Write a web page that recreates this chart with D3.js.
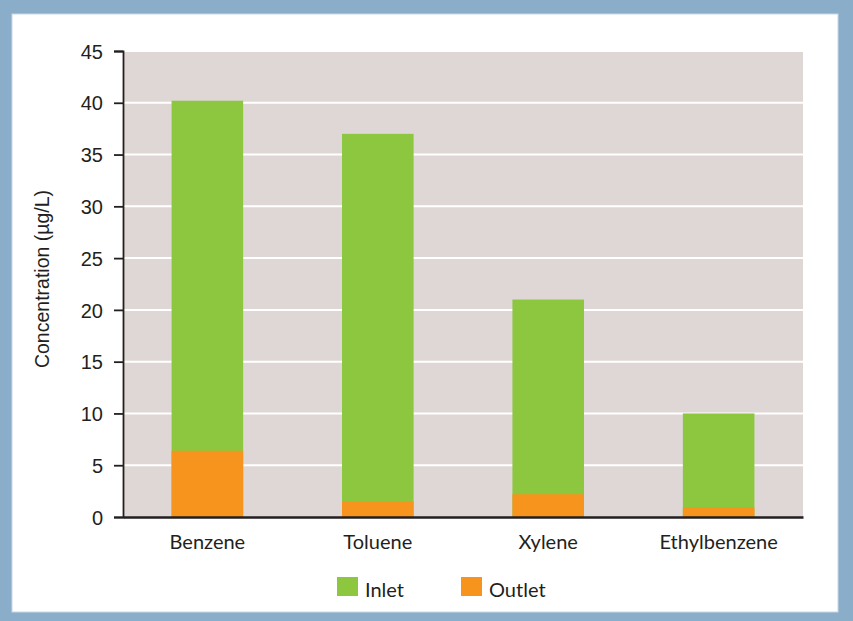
<!DOCTYPE html>
<html><head><meta charset="utf-8">
<script src="https://cdn.jsdelivr.net/npm/d3@7"></script>
<style>body{margin:0;background:#8aadc9;}svg{display:block;}</style>
</head><body>
<script>
const categories = ["Benzene", "Toluene", "Xylene", "Ethylbenzene"];
const inletValues = [40.2, 37.0, 21.0, 10.0];
const outletValues = [6.4, 1.5, 2.2, 0.9];
const yTicks = [0, 5, 10, 15, 20, 25, 30, 35, 40, 45];
const seriesNames = ["Inlet", "Outlet"];
const colors = ["#8dc63f", "#f7941d"];

const W = 853, H = 621;
const svg = d3.select("body").append("svg").attr("width", W).attr("height", H);
svg.append("rect").attr("width", W).attr("height", H).attr("fill", "#8aadc9");
svg.append("rect").attr("x", 12).attr("y", 14).attr("width", 826).attr("height", 598)
  .attr("fill", "#fff").attr("stroke", "#c9d8e6").attr("stroke-width", 1);

const m = {left: 123, right: 803, top: 51, bottom: 517};
const x = d3.scaleBand().domain(categories).range([m.left, m.right]).paddingInner(0.58).paddingOuter(0.285);
const y = d3.scaleLinear().domain([0, 45]).range([m.bottom, m.top]);

svg.append("rect").attr("x", m.left).attr("y", m.top).attr("width", m.right - m.left)
  .attr("height", m.bottom - m.top).attr("fill", "#dfd7d6");

svg.append("g").selectAll("line").data(yTicks.filter(t => t > 0)).join("line")
  .attr("x1", m.left).attr("x2", m.right).attr("y1", d => y(d)).attr("y2", d => y(d))
  .attr("stroke", "#fff").attr("stroke-width", 2);

svg.append("g").selectAll("rect").data(categories).join("rect")
  .attr("x", d => x(d)).attr("width", x.bandwidth())
  .attr("y", (d, i) => y(inletValues[i])).attr("height", (d, i) => y(0) - y(inletValues[i]))
  .attr("fill", colors[0]);
svg.append("g").selectAll("rect").data(categories).join("rect")
  .attr("x", d => x(d)).attr("width", x.bandwidth())
  .attr("y", (d, i) => y(outletValues[i])).attr("height", (d, i) => y(0) - y(outletValues[i]))
  .attr("fill", colors[1]);

const yAxis = svg.append("g").attr("transform", `translate(${m.left},0)`)
  .call(d3.axisLeft(y).tickValues(yTicks).tickSize(9).tickPadding(11));
yAxis.select(".domain").attr("stroke", "#231f20").attr("stroke-width", 1.8);
yAxis.selectAll(".tick line").attr("stroke", "#231f20").attr("stroke-width", 1.8);
yAxis.selectAll(".tick text").attr("font-family", "Liberation Sans, Arial, sans-serif")
  .attr("font-size", 20).attr("fill", "#231f20").attr("dy", "0.36em");

const xAxis = svg.append("g").attr("transform", `translate(0,${m.bottom})`)
  .call(d3.axisBottom(x).tickSize(0).tickPadding(16));
xAxis.select(".domain").attr("stroke", "#231f20").attr("stroke-width", 2.5);
xAxis.selectAll(".tick text").attr("font-family", "Lato, sans-serif")
  .attr("font-size", 20).attr("fill", "#231f20").attr("dy", "0.8em");

svg.append("text").attr("transform", `translate(49,279) rotate(-90)`)
  .attr("text-anchor", "middle").attr("font-family", "Liberation Sans, Arial, sans-serif")
  .attr("font-size", 19.5).attr("fill", "#231f20").text("Concentration (µg/L)");

const lx = [337, 461];
const leg = svg.append("g").selectAll("g").data(seriesNames).join("g")
  .attr("transform", (d, i) => `translate(${lx[i]},577)`);
leg.append("rect").attr("width", 21).attr("height", 19).attr("fill", (d, i) => colors[i]);
leg.append("text").attr("x", 28).attr("y", 19.5).attr("font-family", "Lato, sans-serif")
  .attr("font-size", 20).attr("fill", "#231f20").text(d => d);
</script>
</body></html>
